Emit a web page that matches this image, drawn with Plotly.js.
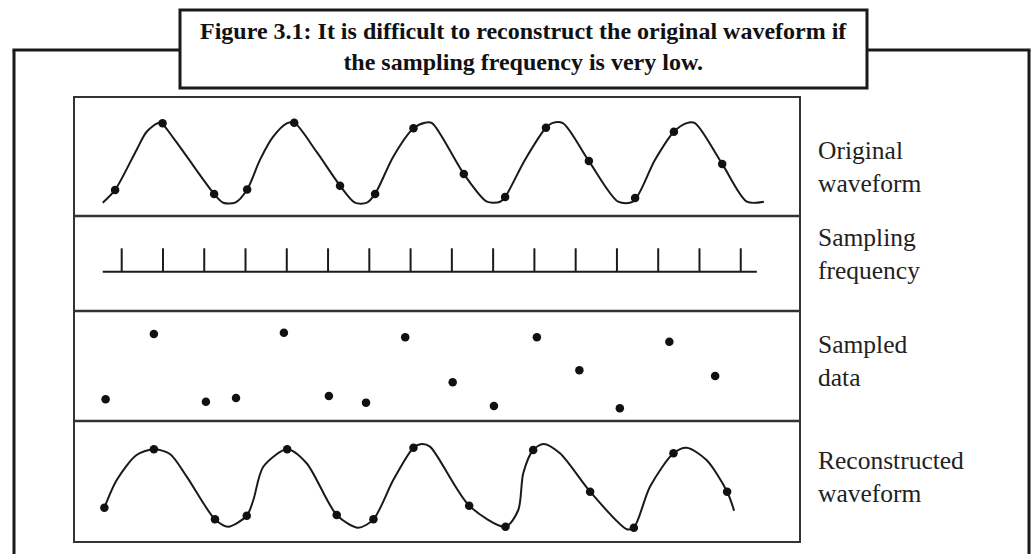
<!DOCTYPE html>
<html>
<head>
<meta charset="utf-8">
<script src="https://cdn.plot.ly/plotly-3.0.1.min.js"></script>
<style>
html, body { margin: 0; padding: 0; background: #ffffff; }
#chart { width: 1031px; height: 554px; }
</style>
</head>
<body>
<div id="chart"></div>
<script>
// ---------- DATA (time in sample periods, amplitude normalised) ----------
const titleText = "Figure 3.1: It is difficult to reconstruct the original waveform if<br>the sampling frequency is very low.";
const panelLabels = ["Original<br>waveform", "Sampling<br>frequency", "Sampled<br>data", "Reconstructed<br>waveform"];

// Original waveform (curve)
const origCurveT = [-0.46, -0.16, 0.36, 0.61, 0.93, 1.25, 1.58, 2.24, 2.46, 2.75, 3.04, 3.35, 3.67, 4.00, 4.18, 4.72, 5.29, 5.65, 5.94, 6.14, 6.58, 7.07, 7.35, 7.52, 8.29, 8.85, 9.17, 9.29, 9.77, 10.28, 10.43, 10.69, 11.32, 12.03, 12.39, 12.92, 13.38, 13.69, 13.89, 14.55, 15.15, 15.56];
const origCurveV = [-1.0, -0.68, 0.32, 0.78, 1.0, 0.62, 0.15, -0.78, -1.0, -1.0, -0.67, 0.07, 0.65, 0.985, 1.0, 0.275, -0.575, -1.0, -1.0, -0.78, 0.15, 0.86, 1.0, 0.99, -0.28, -0.975, -0.975, -0.86, 0.07, 0.875, 0.99, 0.99, 0.04, -0.975, -0.975, 0.07, 0.775, 0.99, 0.99, -0.03, -0.975, -0.975];
// Original waveform (sample points on it)
const origDotsT = [-0.16, 0.99, 2.24, 3.04, 4.18, 5.29, 6.14, 7.07, 8.29, 9.29, 10.28, 11.32, 12.44, 13.38, 14.55];
const origDotsV = [-0.68, 0.985, -0.78, -0.67, 1.0, -0.575, -0.78, 0.86, -0.28, -0.86, 0.875, 0.04, -0.88, 0.775, -0.03];

// Sampling frequency (pulse train)
const sampleTicks = [0, 1, 2, 3, 4, 5, 6, 7, 8, 9, 10, 11, 12, 13, 14, 15];
const pulseHeight = 1;
const baselineT = [-0.46, 15.39];

// Sampled data
const sampledT = [-0.39, 0.78, 2.04, 2.77, 3.93, 5.02, 5.92, 6.87, 8.02, 9.02, 10.06, 11.09, 12.07, 13.27, 14.38];
const sampledV = [-0.76, 0.966, -0.825, -0.73, 1.0, -0.675, -0.85, 0.88, -0.31, -0.94, 0.88, 0.005, -1.0, 0.76, -0.145];

// Reconstructed waveform (curve)
const reconCurveT = [-0.42, -0.12, 0.36, 0.78, 1.17, 1.575, 2.26, 2.58, 3.03, 3.19, 3.43, 4.01, 4.48, 5.21, 5.73, 6.10, 6.58, 7.07, 7.27, 7.47, 8.42, 9.30, 9.61, 9.73, 9.97, 10.22, 10.62, 11.35, 12.24, 12.41, 12.80, 13.37, 13.69, 14.17, 14.67, 14.84];
const reconCurveV = [-0.486, 0.215, 0.848, 0.992, 0.873, 0.30, -0.78, -0.967, -0.69, -0.29, 0.55, 0.992, 0.64, -0.67, -0.992, -0.78, 0.215, 1.033, 1.127, 1.06, -0.435, -0.967, -0.544, 0.385, 0.975, 1.127, 0.89, -0.081, -1.03, -0.992, 0.046, 0.891, 1.033, 0.72, -0.081, -0.562];
// Reconstructed waveform (sample points)
const reconDotsT = [-0.42, 0.78, 2.26, 3.03, 4.01, 5.21, 6.10, 7.07, 8.42, 9.30, 9.97, 11.35, 12.41, 13.37, 14.67];
const reconDotsV = [-0.486, 0.992, -0.78, -0.69, 0.992, -0.67, -0.78, 1.033, -0.435, -0.967, 0.975, -0.081, -0.992, 0.891, -0.081];

// ---------- LAYOUT HELPERS ----------
const W = 1031, H = 554;
const px = x => x / W;
const py = y => 1 - y / H;
const INK = '#1a1a1a';

// pulse train built from tick indices
const pulseX = [], pulseY = [];
sampleTicks.forEach(t => { pulseX.push(t, t, null); pulseY.push(0, pulseHeight, null); });

const lineStyle = { color: INK, width: 2, shape: 'spline', smoothing: 0.8 };
const dotStyle = { color: '#111', size: 8.5 };

const traces = [
  { x: origCurveT, y: origCurveV, yaxis: 'y', mode: 'lines', line: lineStyle, hoverinfo: 'skip' },
  { x: origDotsT, y: origDotsV, yaxis: 'y', mode: 'markers', marker: dotStyle, hoverinfo: 'skip' },
  { x: pulseX, y: pulseY, yaxis: 'y2', mode: 'lines', line: { color: INK, width: 2 }, hoverinfo: 'skip' },
  { x: baselineT, y: [0, 0], yaxis: 'y2', mode: 'lines', line: { color: INK, width: 2 }, hoverinfo: 'skip' },
  { x: sampledT, y: sampledV, yaxis: 'y3', mode: 'markers', marker: dotStyle, hoverinfo: 'skip' },
  { x: reconCurveT, y: reconCurveV, yaxis: 'y4', mode: 'lines', line: lineStyle, hoverinfo: 'skip' },
  { x: reconDotsT, y: reconDotsV, yaxis: 'y4', mode: 'markers', marker: dotStyle, hoverinfo: 'skip' }
];

const hidden = { visible: false, fixedrange: true, showgrid: false, zeroline: false };
// inner box x: 74..800 px; first tick at 121.7 px, period 41.27 px
const xr = [(74 - 121.7) / 41.27, (800 - 121.7) / 41.27];

const frame = { color: INK, width: 3 };
const innerLine = { color: '#333', width: 2 };
const shapes = [
  // outer frame (open bottom)
  { type: 'line', xref: 'paper', yref: 'paper', x0: px(14), x1: px(14), y0: py(50), y1: py(560), line: frame },
  { type: 'line', xref: 'paper', yref: 'paper', x0: px(12.5), x1: px(180), y0: py(50), y1: py(50), line: frame },
  { type: 'line', xref: 'paper', yref: 'paper', x0: px(867), x1: px(1030.5), y0: py(50), y1: py(50), line: frame },
  { type: 'line', xref: 'paper', yref: 'paper', x0: px(1029), x1: px(1029), y0: py(50), y1: py(560), line: frame },
  // title box
  { type: 'rect', xref: 'paper', yref: 'paper', x0: px(180), x1: px(867), y0: py(88), y1: py(10), line: frame, fillcolor: 'rgba(0,0,0,0)' },
  // inner box and panel dividers
  { type: 'rect', xref: 'paper', yref: 'paper', x0: px(74), x1: px(800), y0: py(542), y1: py(97), line: innerLine, fillcolor: 'rgba(0,0,0,0)' },
  { type: 'line', xref: 'paper', yref: 'paper', x0: px(74), x1: px(800), y0: py(216), y1: py(216), line: { color: '#333', width: 2.5 } },
  { type: 'line', xref: 'paper', yref: 'paper', x0: px(74), x1: px(800), y0: py(311), y1: py(311), line: { color: '#333', width: 2.5 } },
  { type: 'line', xref: 'paper', yref: 'paper', x0: px(74), x1: px(800), y0: py(421), y1: py(421), line: { color: '#333', width: 2.5 } }
];

const labelY = [166.5, 254, 360.5, 477];
const annotations = [
  { text: '<b>' + titleText + '</b>', xref: 'paper', yref: 'paper', x: px(523.5), y: py(47), xanchor: 'center', yanchor: 'middle', align: 'center', showarrow: false,
    font: { family: 'Liberation Serif, serif', size: 24, color: '#111' } }
].concat(panelLabels.map((t, i) => ({
  text: t, xref: 'paper', yref: 'paper', x: px(816), y: py(labelY[i]), xanchor: 'left', yanchor: 'middle', align: 'left', showarrow: false,
  font: { family: 'Liberation Serif, serif', size: 25.5, color: '#222' }
})));

const layout = {
  width: W, height: H,
  margin: { l: 0, r: 0, t: 0, b: 0, pad: 0 },
  paper_bgcolor: '#ffffff', plot_bgcolor: 'rgba(0,0,0,0)',
  showlegend: false,
  xaxis: Object.assign({ domain: [px(74), px(800)], range: xr }, hidden),
  yaxis: Object.assign({ domain: [py(216), py(97)], range: [-1.3325, 1.6425] }, hidden),
  yaxis2: Object.assign({ domain: [py(311), py(216)], range: [-1.68, 2.38] }, hidden),
  yaxis3: Object.assign({ domain: [py(421), py(311)], range: [-1.336, 1.574] }, hidden),
  yaxis4: Object.assign({ domain: [py(542), py(421)], range: [-1.354, 1.709] }, hidden),
  shapes: shapes,
  annotations: annotations
};

Plotly.newPlot('chart', traces, layout, { staticPlot: true, displayModeBar: false });
</script>
</body>
</html>
